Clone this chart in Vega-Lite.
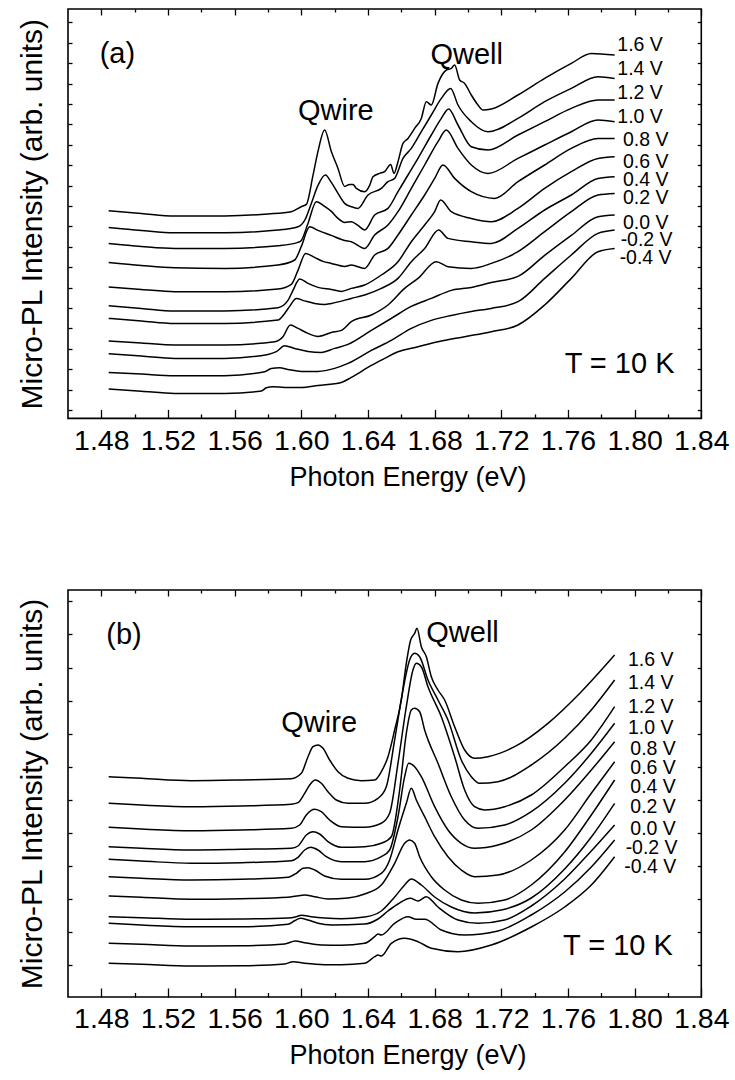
{
  "$schema": "https://vega.github.io/schema/vega-lite/v6.json",
  "padding": {"left": 17, "top": 7, "right": 5, "bottom": 3},
  "spacing": 96,
  "config": {
    "font": "Liberation Sans",
    "view": {"stroke": "black", "strokeWidth": 1.6},
    "axis": {"domain": false, "grid": false, "tickColor": "black", "tickWidth": 1.3, "labelColor": "black", "titleColor": "black", "labelFont": "Liberation Sans", "titleFont": "Liberation Sans", "titleFontWeight": "normal", "labelFlush": false, "labelOverlap": false},
    "text": {"color": "black"}
  },
  "datasets": {
    "a": [
      {"s":"1.6 V","e":1.4844,"i":207.7},{"s":"1.6 V","e":1.504,"i":205},{"s":"1.6 V","e":1.524,"i":202.5},{"s":"1.6 V","e":1.554,"i":202.5},{"s":"1.6 V","e":1.58,"i":204.4},{"s":"1.6 V","e":1.594,"i":206.7},{"s":"1.6 V","e":1.6,"i":211.7},{"s":"1.6 V","e":1.603,"i":214},{"s":"1.6 V","e":1.607,"i":243},{"s":"1.6 V","e":1.61,"i":267},{"s":"1.6 V","e":1.614,"i":288.4},{"s":"1.6 V","e":1.618,"i":267},{"s":"1.6 V","e":1.622,"i":250},{"s":"1.6 V","e":1.626,"i":232},{"s":"1.6 V","e":1.629,"i":234},{"s":"1.6 V","e":1.631,"i":234},{"s":"1.6 V","e":1.633,"i":230},{"s":"1.6 V","e":1.638,"i":226.7},{"s":"1.6 V","e":1.641,"i":233},{"s":"1.6 V","e":1.643,"i":241.7},{"s":"1.6 V","e":1.647,"i":245},{"s":"1.6 V","e":1.65,"i":246.7},{"s":"1.6 V","e":1.6536,"i":254},{"s":"1.6 V","e":1.6556,"i":245},{"s":"1.6 V","e":1.658,"i":256.7},{"s":"1.6 V","e":1.661,"i":275},{"s":"1.6 V","e":1.664,"i":280},{"s":"1.6 V","e":1.668,"i":290},{"s":"1.6 V","e":1.672,"i":300},{"s":"1.6 V","e":1.675,"i":316.7},{"s":"1.6 V","e":1.678,"i":313.4},{"s":"1.6 V","e":1.682,"i":335},{"s":"1.6 V","e":1.687,"i":348.4},{"s":"1.6 V","e":1.69,"i":350},{"s":"1.6 V","e":1.692,"i":353.4},{"s":"1.6 V","e":1.695,"i":338.4},{"s":"1.6 V","e":1.698,"i":335},{"s":"1.6 V","e":1.702,"i":323.4},{"s":"1.6 V","e":1.706,"i":313.4},{"s":"1.6 V","e":1.709,"i":308.4},{"s":"1.6 V","e":1.714,"i":309.4},{"s":"1.6 V","e":1.73,"i":323.4},{"s":"1.6 V","e":1.746,"i":340},{"s":"1.6 V","e":1.762,"i":355},{"s":"1.6 V","e":1.774,"i":365},{"s":"1.6 V","e":1.788,"i":363.4},
      {"s":"1.4 V","e":1.4844,"i":191},{"s":"1.4 V","e":1.504,"i":188},{"s":"1.4 V","e":1.524,"i":185.7},{"s":"1.4 V","e":1.554,"i":185.7},{"s":"1.4 V","e":1.586,"i":188.4},{"s":"1.4 V","e":1.598,"i":191.7},{"s":"1.4 V","e":1.602,"i":198},{"s":"1.4 V","e":1.606,"i":215},{"s":"1.4 V","e":1.61,"i":233},{"s":"1.4 V","e":1.6144,"i":243.4},{"s":"1.4 V","e":1.618,"i":236},{"s":"1.4 V","e":1.622,"i":225},{"s":"1.4 V","e":1.626,"i":215},{"s":"1.4 V","e":1.63,"i":211.7},{"s":"1.4 V","e":1.634,"i":210},{"s":"1.4 V","e":1.64,"i":223.4},{"s":"1.4 V","e":1.648,"i":230},{"s":"1.4 V","e":1.652,"i":236.7},{"s":"1.4 V","e":1.656,"i":240},{"s":"1.4 V","e":1.661,"i":260},{"s":"1.4 V","e":1.666,"i":270},{"s":"1.4 V","e":1.672,"i":286.7},{"s":"1.4 V","e":1.678,"i":303.4},{"s":"1.4 V","e":1.684,"i":320},{"s":"1.4 V","e":1.6896,"i":330},{"s":"1.4 V","e":1.694,"i":313.4},{"s":"1.4 V","e":1.702,"i":296.7},{"s":"1.4 V","e":1.712,"i":286.7},{"s":"1.4 V","e":1.73,"i":300},{"s":"1.4 V","e":1.746,"i":316.7},{"s":"1.4 V","e":1.762,"i":330},{"s":"1.4 V","e":1.778,"i":341.7},{"s":"1.4 V","e":1.788,"i":340},
      {"s":"1.2 V","e":1.4844,"i":175},{"s":"1.2 V","e":1.504,"i":172},{"s":"1.2 V","e":1.524,"i":170},{"s":"1.2 V","e":1.554,"i":170},{"s":"1.2 V","e":1.586,"i":172.7},{"s":"1.2 V","e":1.598,"i":176},{"s":"1.2 V","e":1.6,"i":178},{"s":"1.2 V","e":1.604,"i":195},{"s":"1.2 V","e":1.609,"i":216.7},{"s":"1.2 V","e":1.614,"i":212},{"s":"1.2 V","e":1.618,"i":207},{"s":"1.2 V","e":1.622,"i":200},{"s":"1.2 V","e":1.626,"i":196},{"s":"1.2 V","e":1.63,"i":196.7},{"s":"1.2 V","e":1.634,"i":193},{"s":"1.2 V","e":1.638,"i":188.4},{"s":"1.2 V","e":1.644,"i":203.4},{"s":"1.2 V","e":1.652,"i":210},{"s":"1.2 V","e":1.658,"i":226.7},{"s":"1.2 V","e":1.664,"i":243.4},{"s":"1.2 V","e":1.67,"i":260},{"s":"1.2 V","e":1.678,"i":283.4},{"s":"1.2 V","e":1.684,"i":300},{"s":"1.2 V","e":1.6884,"i":309.4},{"s":"1.2 V","e":1.694,"i":293.4},{"s":"1.2 V","e":1.702,"i":271.7},{"s":"1.2 V","e":1.712,"i":268.4},{"s":"1.2 V","e":1.73,"i":283.4},{"s":"1.2 V","e":1.746,"i":296.7},{"s":"1.2 V","e":1.762,"i":310},{"s":"1.2 V","e":1.778,"i":318.4},{"s":"1.2 V","e":1.788,"i":318.4},
      {"s":"1.0 V","e":1.4844,"i":156},{"s":"1.0 V","e":1.504,"i":153},{"s":"1.0 V","e":1.524,"i":150.7},{"s":"1.0 V","e":1.554,"i":150},{"s":"1.0 V","e":1.586,"i":153.4},{"s":"1.0 V","e":1.596,"i":158.4},{"s":"1.0 V","e":1.6,"i":172},{"s":"1.0 V","e":1.605,"i":191.7},{"s":"1.0 V","e":1.61,"i":188},{"s":"1.0 V","e":1.618,"i":183},{"s":"1.0 V","e":1.626,"i":178},{"s":"1.0 V","e":1.63,"i":176.7},{"s":"1.0 V","e":1.638,"i":170},{"s":"1.0 V","e":1.644,"i":183.4},{"s":"1.0 V","e":1.652,"i":193.4},{"s":"1.0 V","e":1.658,"i":206.7},{"s":"1.0 V","e":1.666,"i":230},{"s":"1.0 V","e":1.674,"i":253.4},{"s":"1.0 V","e":1.682,"i":276.7},{"s":"1.0 V","e":1.687,"i":288.4},{"s":"1.0 V","e":1.694,"i":270},{"s":"1.0 V","e":1.702,"i":253.4},{"s":"1.0 V","e":1.712,"i":245},{"s":"1.0 V","e":1.73,"i":260},{"s":"1.0 V","e":1.746,"i":273.4},{"s":"1.0 V","e":1.762,"i":286.7},{"s":"1.0 V","e":1.778,"i":298.4},{"s":"1.0 V","e":1.788,"i":296.7},
      {"s":"0.8 V","e":1.4844,"i":131.4},{"s":"0.8 V","e":1.504,"i":129},{"s":"0.8 V","e":1.524,"i":126.7},{"s":"0.8 V","e":1.554,"i":126.7},{"s":"0.8 V","e":1.586,"i":129.4},{"s":"0.8 V","e":1.594,"i":134},{"s":"0.8 V","e":1.598,"i":148},{"s":"0.8 V","e":1.6026,"i":165},{"s":"0.8 V","e":1.608,"i":161},{"s":"0.8 V","e":1.613,"i":157},{"s":"0.8 V","e":1.618,"i":155},{"s":"0.8 V","e":1.626,"i":152},{"s":"0.8 V","e":1.63,"i":153.4},{"s":"0.8 V","e":1.638,"i":150},{"s":"0.8 V","e":1.644,"i":163.4},{"s":"0.8 V","e":1.652,"i":170},{"s":"0.8 V","e":1.658,"i":183.4},{"s":"0.8 V","e":1.666,"i":203.4},{"s":"0.8 V","e":1.674,"i":223.4},{"s":"0.8 V","e":1.68,"i":240},{"s":"0.8 V","e":1.685,"i":253.4},{"s":"0.8 V","e":1.692,"i":240},{"s":"0.8 V","e":1.702,"i":226.7},{"s":"0.8 V","e":1.716,"i":220},{"s":"0.8 V","e":1.73,"i":236.7},{"s":"0.8 V","e":1.746,"i":253.4},{"s":"0.8 V","e":1.762,"i":270},{"s":"0.8 V","e":1.778,"i":280},{"s":"0.8 V","e":1.788,"i":280},
      {"s":"0.6 V","e":1.4844,"i":112.7},{"s":"0.6 V","e":1.504,"i":110},{"s":"0.6 V","e":1.524,"i":107.4},{"s":"0.6 V","e":1.554,"i":107.4},{"s":"0.6 V","e":1.586,"i":110.7},{"s":"0.6 V","e":1.592,"i":118},{"s":"0.6 V","e":1.595,"i":128},{"s":"0.6 V","e":1.599,"i":139.4},{"s":"0.6 V","e":1.604,"i":135},{"s":"0.6 V","e":1.61,"i":131},{"s":"0.6 V","e":1.618,"i":129},{"s":"0.6 V","e":1.624,"i":127},{"s":"0.6 V","e":1.63,"i":130},{"s":"0.6 V","e":1.638,"i":133.4},{"s":"0.6 V","e":1.648,"i":143.4},{"s":"0.6 V","e":1.658,"i":156.7},{"s":"0.6 V","e":1.666,"i":176.7},{"s":"0.6 V","e":1.674,"i":193.4},{"s":"0.6 V","e":1.68,"i":206.7},{"s":"0.6 V","e":1.6836,"i":218.4},{"s":"0.6 V","e":1.69,"i":206.7},{"s":"0.6 V","e":1.702,"i":200},{"s":"0.6 V","e":1.714,"i":196.7},{"s":"0.6 V","e":1.73,"i":210},{"s":"0.6 V","e":1.746,"i":230},{"s":"0.6 V","e":1.762,"i":246.7},{"s":"0.6 V","e":1.778,"i":260},{"s":"0.6 V","e":1.788,"i":261.7},
      {"s":"0.4 V","e":1.4844,"i":100},{"s":"0.4 V","e":1.504,"i":97.5},{"s":"0.4 V","e":1.524,"i":95},{"s":"0.4 V","e":1.554,"i":95},{"s":"0.4 V","e":1.586,"i":98.4},{"s":"0.4 V","e":1.59,"i":105},{"s":"0.4 V","e":1.593,"i":112},{"s":"0.4 V","e":1.597,"i":120},{"s":"0.4 V","e":1.602,"i":117.5},{"s":"0.4 V","e":1.608,"i":115},{"s":"0.4 V","e":1.614,"i":114},{"s":"0.4 V","e":1.618,"i":115},{"s":"0.4 V","e":1.63,"i":120},{"s":"0.4 V","e":1.638,"i":123.4},{"s":"0.4 V","e":1.648,"i":130},{"s":"0.4 V","e":1.658,"i":140},{"s":"0.4 V","e":1.666,"i":156.7},{"s":"0.4 V","e":1.674,"i":170},{"s":"0.4 V","e":1.6824,"i":188.4},{"s":"0.4 V","e":1.688,"i":180},{"s":"0.4 V","e":1.702,"i":176.7},{"s":"0.4 V","e":1.714,"i":175},{"s":"0.4 V","e":1.73,"i":190},{"s":"0.4 V","e":1.746,"i":208.4},{"s":"0.4 V","e":1.762,"i":223.4},{"s":"0.4 V","e":1.778,"i":240},{"s":"0.4 V","e":1.788,"i":241.7},
      {"s":"0.2 V","e":1.4844,"i":77.4},{"s":"0.2 V","e":1.504,"i":75.4},{"s":"0.2 V","e":1.524,"i":73.4},{"s":"0.2 V","e":1.554,"i":73.4},{"s":"0.2 V","e":1.584,"i":76.7},{"s":"0.2 V","e":1.589,"i":81.7},{"s":"0.2 V","e":1.5934,"i":93.4},{"s":"0.2 V","e":1.598,"i":90},{"s":"0.2 V","e":1.604,"i":85},{"s":"0.2 V","e":1.61,"i":82},{"s":"0.2 V","e":1.618,"i":86},{"s":"0.2 V","e":1.624,"i":88},{"s":"0.2 V","e":1.63,"i":96.7},{"s":"0.2 V","e":1.642,"i":103.4},{"s":"0.2 V","e":1.652,"i":113.4},{"s":"0.2 V","e":1.662,"i":130},{"s":"0.2 V","e":1.67,"i":140},{"s":"0.2 V","e":1.681,"i":156.7},{"s":"0.2 V","e":1.688,"i":151.7},{"s":"0.2 V","e":1.702,"i":150},{"s":"0.2 V","e":1.714,"i":155},{"s":"0.2 V","e":1.73,"i":166.7},{"s":"0.2 V","e":1.746,"i":186.7},{"s":"0.2 V","e":1.762,"i":206.7},{"s":"0.2 V","e":1.778,"i":223.4},{"s":"0.2 V","e":1.788,"i":225},
      {"s":"0.0 V","e":1.4844,"i":64.7},{"s":"0.0 V","e":1.504,"i":62.4},{"s":"0.0 V","e":1.524,"i":60},{"s":"0.0 V","e":1.554,"i":60},{"s":"0.0 V","e":1.58,"i":64},{"s":"0.0 V","e":1.585,"i":66.7},{"s":"0.0 V","e":1.59,"i":72.7},{"s":"0.0 V","e":1.596,"i":70},{"s":"0.0 V","e":1.604,"i":67},{"s":"0.0 V","e":1.612,"i":66},{"s":"0.0 V","e":1.62,"i":70},{"s":"0.0 V","e":1.628,"i":74},{"s":"0.0 V","e":1.642,"i":88},{"s":"0.0 V","e":1.654,"i":100},{"s":"0.0 V","e":1.666,"i":112},{"s":"0.0 V","e":1.678,"i":120},{"s":"0.0 V","e":1.69,"i":128},{"s":"0.0 V","e":1.702,"i":131},{"s":"0.0 V","e":1.714,"i":136},{"s":"0.0 V","e":1.73,"i":142},{"s":"0.0 V","e":1.746,"i":163},{"s":"0.0 V","e":1.762,"i":183},{"s":"0.0 V","e":1.778,"i":201.7},{"s":"0.0 V","e":1.788,"i":203.4},
      {"s":"-0.2 V","e":1.4844,"i":46},{"s":"-0.2 V","e":1.504,"i":44.3},{"s":"-0.2 V","e":1.524,"i":42.7},{"s":"-0.2 V","e":1.554,"i":42.7},{"s":"-0.2 V","e":1.578,"i":46.7},{"s":"-0.2 V","e":1.582,"i":50},{"s":"-0.2 V","e":1.587,"i":50.7},{"s":"-0.2 V","e":1.592,"i":49},{"s":"-0.2 V","e":1.6,"i":47},{"s":"-0.2 V","e":1.61,"i":47},{"s":"-0.2 V","e":1.62,"i":50},{"s":"-0.2 V","e":1.628,"i":55},{"s":"-0.2 V","e":1.642,"i":68},{"s":"-0.2 V","e":1.654,"i":78},{"s":"-0.2 V","e":1.666,"i":90},{"s":"-0.2 V","e":1.678,"i":98},{"s":"-0.2 V","e":1.69,"i":103},{"s":"-0.2 V","e":1.702,"i":107},{"s":"-0.2 V","e":1.714,"i":110},{"s":"-0.2 V","e":1.73,"i":116.7},{"s":"-0.2 V","e":1.746,"i":140},{"s":"-0.2 V","e":1.762,"i":163.4},{"s":"-0.2 V","e":1.778,"i":185},{"s":"-0.2 V","e":1.788,"i":188.4},
      {"s":"-0.4 V","e":1.4844,"i":29.4},{"s":"-0.4 V","e":1.504,"i":27.2},{"s":"-0.4 V","e":1.524,"i":25},{"s":"-0.4 V","e":1.554,"i":25},{"s":"-0.4 V","e":1.576,"i":27.4},{"s":"-0.4 V","e":1.579,"i":30.7},{"s":"-0.4 V","e":1.583,"i":31.7},{"s":"-0.4 V","e":1.59,"i":31},{"s":"-0.4 V","e":1.6,"i":31},{"s":"-0.4 V","e":1.61,"i":33},{"s":"-0.4 V","e":1.624,"i":36},{"s":"-0.4 V","e":1.63,"i":41},{"s":"-0.4 V","e":1.642,"i":53},{"s":"-0.4 V","e":1.65,"i":60},{"s":"-0.4 V","e":1.658,"i":66.7},{"s":"-0.4 V","e":1.67,"i":71.7},{"s":"-0.4 V","e":1.682,"i":76.7},{"s":"-0.4 V","e":1.698,"i":81.7},{"s":"-0.4 V","e":1.714,"i":86.7},{"s":"-0.4 V","e":1.73,"i":93.4},{"s":"-0.4 V","e":1.746,"i":113.4},{"s":"-0.4 V","e":1.762,"i":140},{"s":"-0.4 V","e":1.778,"i":166.7},{"s":"-0.4 V","e":1.788,"i":170}
    ],
    "b": [
      {"s":"1.6 V","e":1.4844,"i":220.3},{"s":"1.6 V","e":1.504,"i":218.7},{"s":"1.6 V","e":1.534,"i":216.3},{"s":"1.6 V","e":1.564,"i":217},{"s":"1.6 V","e":1.594,"i":218.3},{"s":"1.6 V","e":1.6,"i":223.7},{"s":"1.6 V","e":1.604,"i":240.3},{"s":"1.6 V","e":1.607,"i":250.3},{"s":"1.6 V","e":1.61,"i":252},{"s":"1.6 V","e":1.613,"i":248.7},{"s":"1.6 V","e":1.617,"i":237},{"s":"1.6 V","e":1.622,"i":225.3},{"s":"1.6 V","e":1.628,"i":218.7},{"s":"1.6 V","e":1.636,"i":216.3},{"s":"1.6 V","e":1.644,"i":217},{"s":"1.6 V","e":1.648,"i":225.3},{"s":"1.6 V","e":1.652,"i":240.3},{"s":"1.6 V","e":1.656,"i":267},{"s":"1.6 V","e":1.66,"i":297},{"s":"1.6 V","e":1.663,"i":333.7},{"s":"1.6 V","e":1.6656,"i":357},{"s":"1.6 V","e":1.668,"i":363.7},{"s":"1.6 V","e":1.6694,"i":368.7},{"s":"1.6 V","e":1.672,"i":350.3},{"s":"1.6 V","e":1.675,"i":340.3},{"s":"1.6 V","e":1.678,"i":320.3},{"s":"1.6 V","e":1.682,"i":307},{"s":"1.6 V","e":1.686,"i":297},{"s":"1.6 V","e":1.692,"i":270.3},{"s":"1.6 V","e":1.698,"i":247},{"s":"1.6 V","e":1.704,"i":238.7},{"s":"1.6 V","e":1.712,"i":240.3},{"s":"1.6 V","e":1.728,"i":250.3},{"s":"1.6 V","e":1.748,"i":273.7},{"s":"1.6 V","e":1.768,"i":305.3},{"s":"1.6 V","e":1.788,"i":342},
      {"s":"1.4 V","e":1.4844,"i":193.7},{"s":"1.4 V","e":1.504,"i":192},{"s":"1.4 V","e":1.534,"i":190.3},{"s":"1.4 V","e":1.564,"i":191},{"s":"1.4 V","e":1.594,"i":192.7},{"s":"1.4 V","e":1.598,"i":194.3},{"s":"1.4 V","e":1.602,"i":203.7},{"s":"1.4 V","e":1.605,"i":212},{"s":"1.4 V","e":1.6084,"i":217},{"s":"1.4 V","e":1.612,"i":213.7},{"s":"1.4 V","e":1.616,"i":205.3},{"s":"1.4 V","e":1.621,"i":197},{"s":"1.4 V","e":1.628,"i":193.7},{"s":"1.4 V","e":1.638,"i":193.7},{"s":"1.4 V","e":1.646,"i":198.7},{"s":"1.4 V","e":1.651,"i":210.3},{"s":"1.4 V","e":1.656,"i":257},{"s":"1.4 V","e":1.661,"i":307},{"s":"1.4 V","e":1.665,"i":337},{"s":"1.4 V","e":1.668,"i":343.7},{"s":"1.4 V","e":1.671,"i":340.3},{"s":"1.4 V","e":1.676,"i":317},{"s":"1.4 V","e":1.682,"i":297},{"s":"1.4 V","e":1.688,"i":277},{"s":"1.4 V","e":1.696,"i":237},{"s":"1.4 V","e":1.702,"i":220.3},{"s":"1.4 V","e":1.707,"i":213.7},{"s":"1.4 V","e":1.718,"i":215.3},{"s":"1.4 V","e":1.738,"i":232},{"s":"1.4 V","e":1.758,"i":258.7},{"s":"1.4 V","e":1.774,"i":287},{"s":"1.4 V","e":1.788,"i":317},
      {"s":"1.2 V","e":1.4844,"i":169.7},{"s":"1.2 V","e":1.504,"i":168},{"s":"1.2 V","e":1.534,"i":166.3},{"s":"1.2 V","e":1.564,"i":167},{"s":"1.2 V","e":1.594,"i":168.7},{"s":"1.2 V","e":1.599,"i":172},{"s":"1.2 V","e":1.603,"i":182},{"s":"1.2 V","e":1.608,"i":187.7},{"s":"1.2 V","e":1.612,"i":185.3},{"s":"1.2 V","e":1.617,"i":177},{"s":"1.2 V","e":1.624,"i":170.3},{"s":"1.2 V","e":1.638,"i":169.7},{"s":"1.2 V","e":1.648,"i":173.7},{"s":"1.2 V","e":1.653,"i":183.7},{"s":"1.2 V","e":1.658,"i":233.7},{"s":"1.2 V","e":1.663,"i":290.3},{"s":"1.2 V","e":1.667,"i":327},{"s":"1.2 V","e":1.669,"i":333.7},{"s":"1.2 V","e":1.672,"i":330.3},{"s":"1.2 V","e":1.676,"i":310.3},{"s":"1.2 V","e":1.684,"i":280.3},{"s":"1.2 V","e":1.692,"i":240.3},{"s":"1.2 V","e":1.698,"i":207},{"s":"1.2 V","e":1.704,"i":190.3},{"s":"1.2 V","e":1.71,"i":187},{"s":"1.2 V","e":1.722,"i":190.3},{"s":"1.2 V","e":1.738,"i":202},{"s":"1.2 V","e":1.758,"i":230.3},{"s":"1.2 V","e":1.774,"i":257},{"s":"1.2 V","e":1.788,"i":290.3},
      {"s":"1.0 V","e":1.4844,"i":150.3},{"s":"1.0 V","e":1.504,"i":148.7},{"s":"1.0 V","e":1.534,"i":147},{"s":"1.0 V","e":1.564,"i":147.7},{"s":"1.0 V","e":1.594,"i":148.7},{"s":"1.0 V","e":1.598,"i":151},{"s":"1.0 V","e":1.603,"i":162},{"s":"1.0 V","e":1.607,"i":165.3},{"s":"1.0 V","e":1.611,"i":163},{"s":"1.0 V","e":1.616,"i":155.3},{"s":"1.0 V","e":1.624,"i":149.7},{"s":"1.0 V","e":1.638,"i":150.3},{"s":"1.0 V","e":1.648,"i":153.7},{"s":"1.0 V","e":1.654,"i":160.3},{"s":"1.0 V","e":1.659,"i":207},{"s":"1.0 V","e":1.663,"i":263.7},{"s":"1.0 V","e":1.666,"i":287},{"s":"1.0 V","e":1.668,"i":288.7},{"s":"1.0 V","e":1.671,"i":285.3},{"s":"1.0 V","e":1.674,"i":267},{"s":"1.0 V","e":1.682,"i":233.7},{"s":"1.0 V","e":1.69,"i":200.3},{"s":"1.0 V","e":1.698,"i":177},{"s":"1.0 V","e":1.706,"i":168.7},{"s":"1.0 V","e":1.722,"i":172},{"s":"1.0 V","e":1.738,"i":185.3},{"s":"1.0 V","e":1.758,"i":213.7},{"s":"1.0 V","e":1.774,"i":243.7},{"s":"1.0 V","e":1.788,"i":273.7},
      {"s":"0.8 V","e":1.4844,"i":137.7},{"s":"0.8 V","e":1.504,"i":136},{"s":"0.8 V","e":1.534,"i":133.7},{"s":"0.8 V","e":1.564,"i":134.3},{"s":"0.8 V","e":1.594,"i":136.3},{"s":"0.8 V","e":1.598,"i":139.7},{"s":"0.8 V","e":1.602,"i":147},{"s":"0.8 V","e":1.6056,"i":149.7},{"s":"0.8 V","e":1.61,"i":147},{"s":"0.8 V","e":1.615,"i":140.3},{"s":"0.8 V","e":1.624,"i":135.3},{"s":"0.8 V","e":1.638,"i":135.3},{"s":"0.8 V","e":1.648,"i":140.3},{"s":"0.8 V","e":1.653,"i":147},{"s":"0.8 V","e":1.658,"i":180.3},{"s":"0.8 V","e":1.662,"i":220.3},{"s":"0.8 V","e":1.6644,"i":233.7},{"s":"0.8 V","e":1.668,"i":230.3},{"s":"0.8 V","e":1.672,"i":220.3},{"s":"0.8 V","e":1.68,"i":190.3},{"s":"0.8 V","e":1.688,"i":167},{"s":"0.8 V","e":1.696,"i":153.7},{"s":"0.8 V","e":1.704,"i":148.7},{"s":"0.8 V","e":1.718,"i":152},{"s":"0.8 V","e":1.738,"i":167},{"s":"0.8 V","e":1.758,"i":197},{"s":"0.8 V","e":1.774,"i":227},{"s":"0.8 V","e":1.788,"i":255.3},
      {"s":"0.6 V","e":1.4844,"i":120.3},{"s":"0.6 V","e":1.504,"i":118.7},{"s":"0.6 V","e":1.534,"i":117},{"s":"0.6 V","e":1.564,"i":117.7},{"s":"0.6 V","e":1.592,"i":119.7},{"s":"0.6 V","e":1.597,"i":123.7},{"s":"0.6 V","e":1.601,"i":128.7},{"s":"0.6 V","e":1.604,"i":129.3},{"s":"0.6 V","e":1.608,"i":127},{"s":"0.6 V","e":1.614,"i":121},{"s":"0.6 V","e":1.624,"i":117.7},{"s":"0.6 V","e":1.638,"i":117.7},{"s":"0.6 V","e":1.648,"i":123.7},{"s":"0.6 V","e":1.653,"i":137},{"s":"0.6 V","e":1.658,"i":167},{"s":"0.6 V","e":1.663,"i":193.7},{"s":"0.6 V","e":1.666,"i":208.7},{"s":"0.6 V","e":1.669,"i":197},{"s":"0.6 V","e":1.674,"i":180.3},{"s":"0.6 V","e":1.68,"i":160.3},{"s":"0.6 V","e":1.688,"i":140.3},{"s":"0.6 V","e":1.696,"i":127},{"s":"0.6 V","e":1.704,"i":120.3},{"s":"0.6 V","e":1.718,"i":122},{"s":"0.6 V","e":1.738,"i":137},{"s":"0.6 V","e":1.758,"i":167},{"s":"0.6 V","e":1.774,"i":203.7},{"s":"0.6 V","e":1.788,"i":235.3},
      {"s":"0.4 V","e":1.4844,"i":101},{"s":"0.4 V","e":1.504,"i":99.7},{"s":"0.4 V","e":1.534,"i":97.7},{"s":"0.4 V","e":1.564,"i":98.3},{"s":"0.4 V","e":1.592,"i":99.7},{"s":"0.4 V","e":1.597,"i":101},{"s":"0.4 V","e":1.602,"i":102},{"s":"0.4 V","e":1.608,"i":100.3},{"s":"0.4 V","e":1.616,"i":98},{"s":"0.4 V","e":1.628,"i":99},{"s":"0.4 V","e":1.638,"i":103},{"s":"0.4 V","e":1.648,"i":112},{"s":"0.4 V","e":1.656,"i":133.7},{"s":"0.4 V","e":1.662,"i":153.7},{"s":"0.4 V","e":1.665,"i":157},{"s":"0.4 V","e":1.668,"i":153.7},{"s":"0.4 V","e":1.671,"i":140.3},{"s":"0.4 V","e":1.678,"i":120.3},{"s":"0.4 V","e":1.686,"i":107},{"s":"0.4 V","e":1.696,"i":97},{"s":"0.4 V","e":1.706,"i":93.7},{"s":"0.4 V","e":1.722,"i":97},{"s":"0.4 V","e":1.738,"i":112},{"s":"0.4 V","e":1.758,"i":145},{"s":"0.4 V","e":1.774,"i":182},{"s":"0.4 V","e":1.788,"i":217},
      {"s":"0.2 V","e":1.4844,"i":80.3},{"s":"0.2 V","e":1.504,"i":79.3},{"s":"0.2 V","e":1.534,"i":77.7},{"s":"0.2 V","e":1.564,"i":78},{"s":"0.2 V","e":1.592,"i":79},{"s":"0.2 V","e":1.597,"i":80.3},{"s":"0.2 V","e":1.6,"i":81.7},{"s":"0.2 V","e":1.606,"i":80.3},{"s":"0.2 V","e":1.614,"i":79},{"s":"0.2 V","e":1.624,"i":78.3},{"s":"0.2 V","e":1.638,"i":80},{"s":"0.2 V","e":1.648,"i":86},{"s":"0.2 V","e":1.656,"i":100},{"s":"0.2 V","e":1.662,"i":112},{"s":"0.2 V","e":1.666,"i":118},{"s":"0.2 V","e":1.672,"i":112},{"s":"0.2 V","e":1.68,"i":100},{"s":"0.2 V","e":1.69,"i":90},{"s":"0.2 V","e":1.704,"i":84},{"s":"0.2 V","e":1.72,"i":87},{"s":"0.2 V","e":1.738,"i":99},{"s":"0.2 V","e":1.758,"i":128},{"s":"0.2 V","e":1.774,"i":160},{"s":"0.2 V","e":1.788,"i":193.7},
      {"s":"0.0 V","e":1.4844,"i":73.7},{"s":"0.0 V","e":1.504,"i":72},{"s":"0.0 V","e":1.534,"i":70.3},{"s":"0.0 V","e":1.564,"i":70.3},{"s":"0.0 V","e":1.592,"i":72.7},{"s":"0.0 V","e":1.596,"i":76.3},{"s":"0.0 V","e":1.5996,"i":78.7},{"s":"0.0 V","e":1.604,"i":77},{"s":"0.0 V","e":1.61,"i":73.7},{"s":"0.0 V","e":1.618,"i":72},{"s":"0.0 V","e":1.638,"i":73},{"s":"0.0 V","e":1.646,"i":78},{"s":"0.0 V","e":1.652,"i":86},{"s":"0.0 V","e":1.658,"i":93},{"s":"0.0 V","e":1.6654,"i":98.7},{"s":"0.0 V","e":1.67,"i":96},{"s":"0.0 V","e":1.675,"i":100.3},{"s":"0.0 V","e":1.682,"i":90},{"s":"0.0 V","e":1.694,"i":77},{"s":"0.0 V","e":1.706,"i":73.7},{"s":"0.0 V","e":1.722,"i":77},{"s":"0.0 V","e":1.738,"i":91},{"s":"0.0 V","e":1.758,"i":118},{"s":"0.0 V","e":1.774,"i":146},{"s":"0.0 V","e":1.788,"i":172},
      {"s":"-0.2 V","e":1.4844,"i":53.7},{"s":"-0.2 V","e":1.504,"i":52.7},{"s":"-0.2 V","e":1.534,"i":51},{"s":"-0.2 V","e":1.564,"i":51.3},{"s":"-0.2 V","e":1.59,"i":53},{"s":"-0.2 V","e":1.5964,"i":56},{"s":"-0.2 V","e":1.602,"i":54.3},{"s":"-0.2 V","e":1.612,"i":52},{"s":"-0.2 V","e":1.624,"i":51.7},{"s":"-0.2 V","e":1.638,"i":53.7},{"s":"-0.2 V","e":1.644,"i":60.3},{"s":"-0.2 V","e":1.646,"i":63},{"s":"-0.2 V","e":1.648,"i":62},{"s":"-0.2 V","e":1.656,"i":73.7},{"s":"-0.2 V","e":1.664,"i":80.3},{"s":"-0.2 V","e":1.669,"i":77.7},{"s":"-0.2 V","e":1.674,"i":77.7},{"s":"-0.2 V","e":1.684,"i":67},{"s":"-0.2 V","e":1.698,"i":62},{"s":"-0.2 V","e":1.718,"i":66},{"s":"-0.2 V","e":1.738,"i":82},{"s":"-0.2 V","e":1.758,"i":105},{"s":"-0.2 V","e":1.774,"i":130},{"s":"-0.2 V","e":1.788,"i":157},
      {"s":"-0.4 V","e":1.4844,"i":33.7},{"s":"-0.4 V","e":1.504,"i":32.7},{"s":"-0.4 V","e":1.534,"i":31},{"s":"-0.4 V","e":1.564,"i":31.3},{"s":"-0.4 V","e":1.59,"i":33},{"s":"-0.4 V","e":1.595,"i":35.3},{"s":"-0.4 V","e":1.602,"i":33.7},{"s":"-0.4 V","e":1.614,"i":32.3},{"s":"-0.4 V","e":1.624,"i":32.3},{"s":"-0.4 V","e":1.638,"i":33.7},{"s":"-0.4 V","e":1.644,"i":40.3},{"s":"-0.4 V","e":1.646,"i":42},{"s":"-0.4 V","e":1.648,"i":41},{"s":"-0.4 V","e":1.654,"i":53.7},{"s":"-0.4 V","e":1.662,"i":58.7},{"s":"-0.4 V","e":1.67,"i":55.3},{"s":"-0.4 V","e":1.678,"i":48.7},{"s":"-0.4 V","e":1.694,"i":45.3},{"s":"-0.4 V","e":1.714,"i":52},{"s":"-0.4 V","e":1.738,"i":70},{"s":"-0.4 V","e":1.758,"i":90},{"s":"-0.4 V","e":1.774,"i":112},{"s":"-0.4 V","e":1.788,"i":140.3}
    ],
    "la": [
      {"t":"1.6 V","e":1.7896,"i":373.2},{"t":"1.4 V","e":1.7896,"i":349},{"t":"1.2 V","e":1.7896,"i":325},{"t":"1.0 V","e":1.7896,"i":301.7},{"t":"0.8 V","e":1.793,"i":278.4},{"t":"0.6 V","e":1.793,"i":256.7},{"t":"0.4 V","e":1.793,"i":238.4},{"t":"0.2 V","e":1.793,"i":220},{"t":"0.0 V","e":1.793,"i":195},{"t":"-0.2 V","e":1.7916,"i":178.4},{"t":"-0.4 V","e":1.791,"i":160}
    ],
    "lb": [
      {"t":"1.6 V","e":1.796,"i":337},{"t":"1.4 V","e":1.796,"i":314.3},{"t":"1.2 V","e":1.796,"i":290.3},{"t":"1.0 V","e":1.796,"i":268.7},{"t":"0.8 V","e":1.7974,"i":247.7},{"t":"0.6 V","e":1.7974,"i":228.7},{"t":"0.4 V","e":1.7974,"i":210.3},{"t":"0.2 V","e":1.7974,"i":190.3},{"t":"0.0 V","e":1.7974,"i":167.7},{"t":"-0.2 V","e":1.7946,"i":148.7},{"t":"-0.4 V","e":1.7938,"i":130.3}
    ],
    "na": [{"t":"(a)","e":1.479,"i":355.9},{"t":"Qwire","e":1.598,"i":298.2},{"t":"Qwell","e":1.6775,"i":354.5}],
    "ta": [{"t":"T = 10 K","e":1.758,"i":45}],
    "nb": [{"t":"(b)","e":1.483,"i":353},{"t":"Qwire","e":1.588,"i":265},{"t":"Qwell","e":1.675,"i":355}],
    "tb": [{"t":"T = 10 K","e":1.757,"i":42}]
  },
  "vconcat": [
    {
      "width": 633.3,
      "height": 409.4,
      "layer": [
        {
          "data": {"name": "a"},
          "mark": {"type": "line", "color": "black", "strokeWidth": 1.5, "interpolate": "monotone"},
          "encoding": {
            "x": {"field": "e", "type": "quantitative", "scale": {"domain": [1.46, 1.84], "nice": false, "zero": false},
              "axis": {"orient": "bottom", "values": [1.48,1.52,1.56,1.6,1.64,1.68,1.72,1.76,1.8,1.84], "format": ".2f", "tickSize": -9, "labelPadding": 17, "labelFontSize": 28.5, "title": "Photon Energy (eV)", "titleFontSize": 27, "titlePadding": 9.4, "titleX": 221, "titleAlign": "left"}},
            "y": {"field": "i", "type": "quantitative", "scale": {"domain": [0, 409.4], "nice": false, "zero": false},
              "axis": {"orient": "left", "values": [8.4,28.8,49.2,69.6,90,110.4,130.8,151.2,171.6,192,212.4,232.8,253.2,273.6,294,314.4,334.8,355.2,375.6,396], "labels": false, "tickSize": -4, "title": "Micro-PL Intensity (arb. units)", "titleFontSize": 30, "titlePadding": 19.4}},
            "detail": {"field": "s"}
          }
        },
        {
          "data": {"name": "la"},
          "mark": {"type": "text", "align": "left", "baseline": "middle", "fontSize": 19.5},
          "encoding": {
            "x": {"field": "e", "type": "quantitative", "scale": {"domain": [1.46, 1.84], "nice": false, "zero": false},
              "axis": {"orient": "top", "values": [1.48,1.52,1.56,1.6,1.64,1.68,1.72,1.76,1.8,1.84], "labels": false, "tickSize": -6, "title": null}},
            "y": {"field": "i", "type": "quantitative", "scale": {"domain": [0, 409.4], "nice": false, "zero": false},
              "axis": {"orient": "right", "values": [8.4,28.8,49.2,69.6,90,110.4,130.8,151.2,171.6,192,212.4,232.8,253.2,273.6,294,314.4,334.8,355.2,375.6,396], "labels": false, "tickSize": -4, "title": null}},
            "text": {"field": "t"}
          }
        },
        {
          "data": {"name": "na"},
          "mark": {"type": "text", "align": "left", "baseline": "alphabetic", "fontSize": 29},
          "encoding": {
            "x": {"field": "e", "type": "quantitative", "scale": {"domain": [1.46, 1.84], "nice": false, "zero": false},
              "axis": {"orient": "bottom", "values": [1.5,1.54,1.58,1.62,1.66,1.7,1.74,1.78,1.82], "labels": false, "tickSize": -4.5, "title": null}},
            "y": {"field": "i", "type": "quantitative", "scale": {"domain": [0, 409.4], "nice": false, "zero": false}, "axis": null},
            "text": {"field": "t"}
          }
        },
        {
          "data": {"name": "ta"},
          "mark": {"type": "text", "align": "left", "baseline": "alphabetic", "fontSize": 29},
          "encoding": {
            "x": {"field": "e", "type": "quantitative", "scale": {"domain": [1.46, 1.84], "nice": false, "zero": false},
              "axis": {"orient": "top", "values": [1.5,1.54,1.58,1.62,1.66,1.7,1.74,1.78,1.82], "labels": false, "tickSize": -3, "title": null}},
            "y": {"field": "i", "type": "quantitative", "scale": {"domain": [0, 409.4], "nice": false, "zero": false}, "axis": null},
            "text": {"field": "t"}
          }
        }
      ],
      "resolve": {"axis": {"x": "independent", "y": "independent"}}
    },
    {
      "width": 633.3,
      "height": 407,
      "layer": [
        {
          "data": {"name": "b"},
          "mark": {"type": "line", "color": "black", "strokeWidth": 1.5, "interpolate": "monotone"},
          "encoding": {
            "x": {"field": "e", "type": "quantitative", "scale": {"domain": [1.46, 1.84], "nice": false, "zero": false},
              "axis": {"orient": "bottom", "values": [1.48,1.52,1.56,1.6,1.64,1.68,1.72,1.76,1.8,1.84], "format": ".2f", "tickSize": -9, "labelPadding": 17, "labelFontSize": 28.5, "title": "Photon Energy (eV)", "titleFontSize": 27, "titlePadding": 9.4, "titleX": 221, "titleAlign": "left"}},
            "y": {"field": "i", "type": "quantitative", "scale": {"domain": [0, 407], "nice": false, "zero": false},
              "axis": {"orient": "left", "values": [31.6,64.7,97.8,130.9,164,197.1,230.2,263.3,296.4,329.5,362.6,395.7], "labels": false, "tickSize": -4, "title": "Micro-PL Intensity (arb. units)", "titleFontSize": 30, "titlePadding": 19.4}},
            "detail": {"field": "s"}
          }
        },
        {
          "data": {"name": "lb"},
          "mark": {"type": "text", "align": "left", "baseline": "middle", "fontSize": 19.5},
          "encoding": {
            "x": {"field": "e", "type": "quantitative", "scale": {"domain": [1.46, 1.84], "nice": false, "zero": false},
              "axis": {"orient": "top", "values": [1.48,1.52,1.56,1.6,1.64,1.68,1.72,1.76,1.8,1.84], "labels": false, "tickSize": -6, "title": null}},
            "y": {"field": "i", "type": "quantitative", "scale": {"domain": [0, 407], "nice": false, "zero": false},
              "axis": {"orient": "right", "values": [31.6,64.7,97.8,130.9,164,197.1,230.2,263.3,296.4,329.5,362.6,395.7], "labels": false, "tickSize": -4, "title": null}},
            "text": {"field": "t"}
          }
        },
        {
          "data": {"name": "nb"},
          "mark": {"type": "text", "align": "left", "baseline": "alphabetic", "fontSize": 29},
          "encoding": {
            "x": {"field": "e", "type": "quantitative", "scale": {"domain": [1.46, 1.84], "nice": false, "zero": false},
              "axis": {"orient": "bottom", "values": [1.5,1.54,1.58,1.62,1.66,1.7,1.74,1.78,1.82], "labels": false, "tickSize": -4.5, "title": null}},
            "y": {"field": "i", "type": "quantitative", "scale": {"domain": [0, 407], "nice": false, "zero": false}, "axis": null},
            "text": {"field": "t"}
          }
        },
        {
          "data": {"name": "tb"},
          "mark": {"type": "text", "align": "left", "baseline": "alphabetic", "fontSize": 29},
          "encoding": {
            "x": {"field": "e", "type": "quantitative", "scale": {"domain": [1.46, 1.84], "nice": false, "zero": false},
              "axis": {"orient": "top", "values": [1.5,1.54,1.58,1.62,1.66,1.7,1.74,1.78,1.82], "labels": false, "tickSize": -3, "title": null}},
            "y": {"field": "i", "type": "quantitative", "scale": {"domain": [0, 407], "nice": false, "zero": false}, "axis": null},
            "text": {"field": "t"}
          }
        }
      ],
      "resolve": {"axis": {"x": "independent", "y": "independent"}}
    }
  ]
}
